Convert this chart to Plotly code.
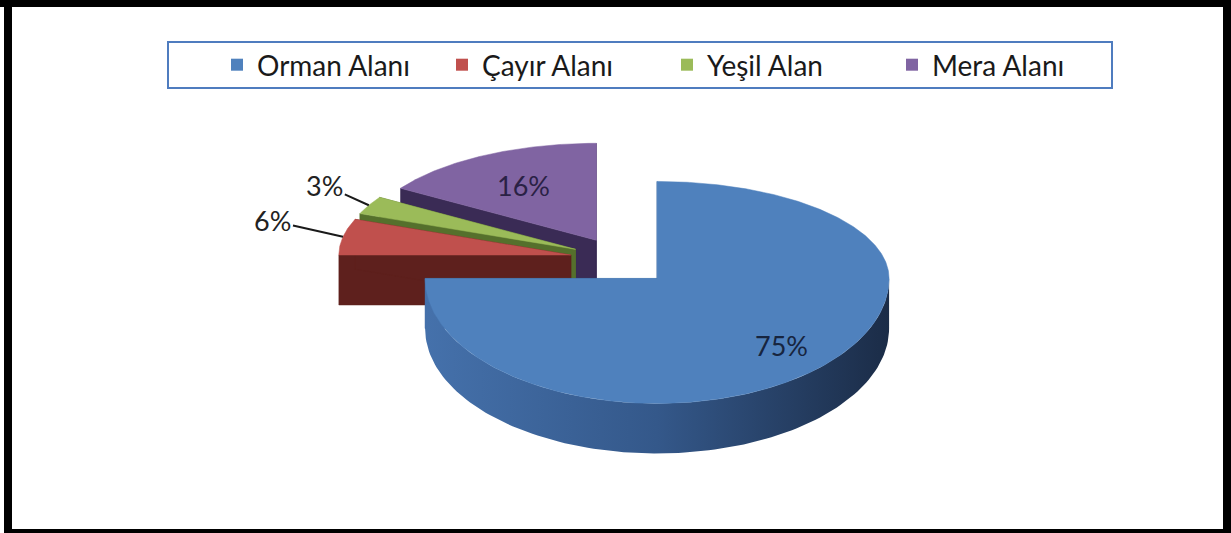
import numpy as np
import plotly.graph_objects as go

# ---------------- data ----------------
categories = ["Orman Alanı", "Çayır Alanı", "Yeşil Alan", "Mera Alanı"]
values = [75, 6, 3, 16]

# ---------------- style ----------------
top_colors = ["#4f81bd", "#c0504d", "#9bbb59", "#8064a2"]
side_colors = ["#3a6299", "#5e201d", "#55702c", "#3a2b55"]
side_grad = [["#4571ab", "#34588a", "#1b2c47"],
             ["#6a2522", "#5a1e1b", "#4a1816"],
             ["#5b7a30", "#4f6b2a", "#435a24"],
             ["#40305e", "#382a52", "#2e2344"]]
label_colors = ["#17253f", "#222222", "#222222", "#2a2145"]
W, H = 1231, 533
CX, CY = 621, 259          # pie centre (pixel units of the hidden axes)
RX, RYB, RYF = 232, 97, 125   # horizontal radius, back / front vertical radius
DEPTH = 50
PULL = 0.22
inside_r = [0.76, 0, 0, 0.65]
outside_offsets = {1: (-70, -16), 2: (-44, -20)}
FONT = "Lato"


def proj(theta_deg, r=1.0):
    t = np.radians(np.asarray(theta_deg, dtype=float))
    c, s = np.cos(t), np.sin(t)
    ry = np.where(c > 0, RYB, RYF)
    return RX * s * r, -c * ry * r


total = float(sum(values))
fr = [v / total for v in values]
starts = np.concatenate([[0.0], np.cumsum(fr)[:-1]]) * 360.0
ends = np.cumsum(fr) * 360.0

fig = go.Figure()

# legend entries
for name, col in zip(categories, top_colors):
    fig.add_trace(go.Scatter(x=[None], y=[None], mode="markers", name=name,
                             marker=dict(symbol="square", size=15, color=col),
                             showlegend=True, hoverinfo="skip"))

slices = []
for i in range(len(values)):
    a0, a1 = starts[i], ends[i]
    mid = (a0 + a1) / 2
    ox, oy = proj(mid, PULL)
    ax0, ay0 = CX + float(ox), CY + float(oy)
    slices.append((ay0, i, a0, a1, mid, ax0))

annotations = []
for ay0, i, a0, a1, mid, ax0 in sorted(slices):
    # radial walls
    for a in (a0, a1):
        qx, qy = proj(a)
        qx, qy = ax0 + float(qx), ay0 + float(qy)
        xs = [ax0, qx, qx, ax0, ax0]
        ys = [ay0, qy, qy + DEPTH, ay0 + DEPTH, ay0]
        fig.add_trace(go.Scatter(x=xs, y=ys, mode="lines", fill="toself",
                                 fillcolor=side_colors[i],
                                 line=dict(color=side_colors[i], width=0.5),
                                 showlegend=False, hoverinfo="skip"))
    # outer (front-facing) wall
    b0, b1 = max(a0, 90.0), min(a1, 270.0)
    if b1 - b0 > 1e-6:
        th = np.linspace(b0, b1, 120)
        px, py = proj(th)
        px = ax0 + px
        py = ay0 + py
        xs = np.concatenate([px, px[::-1], px[:1]])
        ys = np.concatenate([py, py[::-1] + DEPTH, py[:1]])
        fig.add_trace(go.Scatter(x=xs, y=ys, mode="lines", fill="toself",
                                 fillgradient=dict(type="horizontal",
                                                   colorscale=[[0, side_grad[i][0]],
                                                               [0.5, side_grad[i][1]],
                                                               [1, side_grad[i][2]]]),
                                 line=dict(width=0),
                                 showlegend=False, hoverinfo="skip"))
    # top face
    th = np.linspace(a0, a1, max(8, int((a1 - a0) * 2)))
    px, py = proj(th)
    xs = np.concatenate([[ax0], ax0 + px, [ax0]])
    ys = np.concatenate([[ay0], ay0 + py, [ay0]])
    fig.add_trace(go.Scatter(x=xs, y=ys, mode="lines", fill="toself",
                             fillcolor=top_colors[i],
                             line=dict(color=top_colors[i], width=0.5),
                             showlegend=False, hoverinfo="skip"))
    # label
    pct = f"{values[i] / total * 100:.0f}%"
    if inside_r[i] > 0:
        lx, ly = proj(mid, inside_r[i])
        annotations.append(dict(x=ax0 + float(lx), y=ay0 + float(ly), text=pct,
                                showarrow=False, xref="x", yref="y",
                                font=dict(family=FONT, size=27, color=label_colors[i])))
    else:
        rx_, ry_ = proj(mid)
        dx, dy = outside_offsets[i]
        annotations.append(dict(x=ax0 + float(rx_), y=ay0 + float(ry_), text=pct,
                                showarrow=True, arrowhead=0, arrowwidth=2,
                                arrowcolor="#1a1a1a", ax=dx, ay=dy, standoff=0,
                                xref="x", yref="y",
                                font=dict(family=FONT, size=27, color=label_colors[i])))

shapes = [
    # legend frame
    dict(type="rect", xref="x", yref="y", x0=168, x1=1112, y0=42, y1=88,
         line=dict(color="#4f7cbf", width=2), fillcolor="rgba(0,0,0,0)", layer="below"),
    # outer black frame
    dict(type="rect", xref="x", yref="y", x0=0, x1=W, y0=0, y1=7, fillcolor="black", line=dict(width=0)),
    dict(type="rect", xref="x", yref="y", x0=4, x1=12, y0=0, y1=H, fillcolor="black", line=dict(width=0)),
    dict(type="rect", xref="x", yref="y", x0=1223, x1=W, y0=0, y1=H, fillcolor="black", line=dict(width=0)),
    dict(type="rect", xref="x", yref="y", x0=4, x1=W, y0=529, y1=H, fillcolor="black", line=dict(width=0)),
]

fig.update_layout(
    width=W, height=H,
    margin=dict(l=0, r=0, t=0, b=0),
    paper_bgcolor="white", plot_bgcolor="white",
    xaxis=dict(range=[0, W], visible=False, fixedrange=True),
    yaxis=dict(range=[H, 0], visible=False, fixedrange=True),
    showlegend=True,
    legend=dict(orientation="h", x=217 / W, xanchor="left", y=1 - 65 / H, yanchor="middle",
                font=dict(family=FONT, size=28, color="#1a1a1a"),
                entrywidth=180, entrywidthmode="pixels",
                bgcolor="rgba(0,0,0,0)", borderwidth=0, itemsizing="constant"),
    annotations=annotations,
    shapes=shapes,
)

fig.write_html("out.html", config={"displayModeBar": False},
               post_script="document.body.style.margin='0px';document.body.style.overflow='hidden';")
